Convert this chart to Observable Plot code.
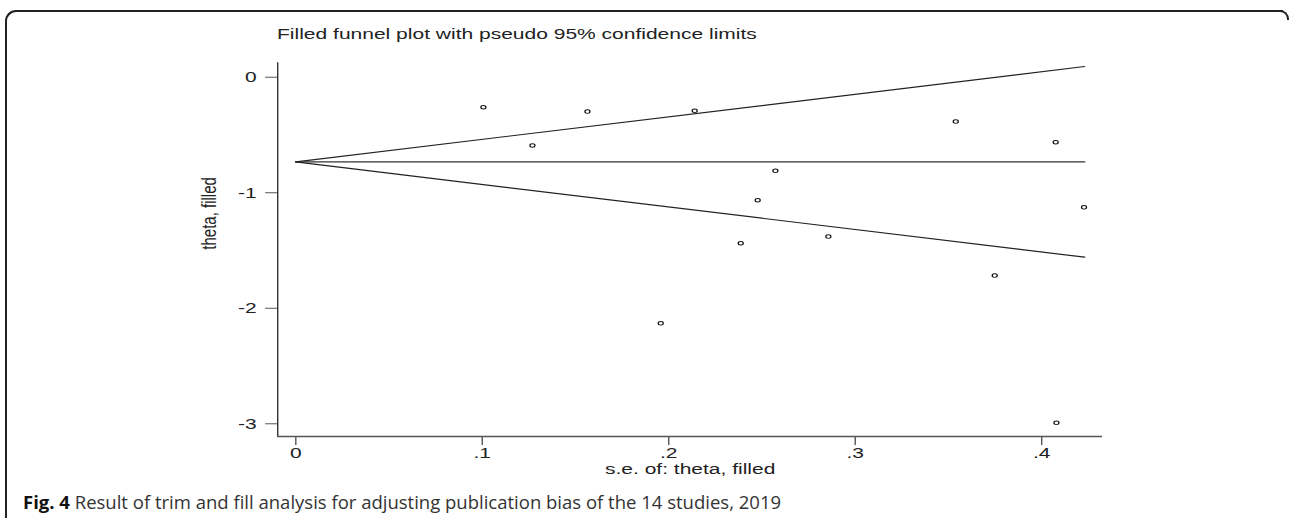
<!DOCTYPE html>
<html>
<head>
<meta charset="utf-8">
<script src="https://cdn.jsdelivr.net/npm/d3@7"></script>
<script src="https://cdn.jsdelivr.net/npm/@observablehq/plot@0.6"></script>
<style>
  html, body { margin: 0; padding: 0; background: #fff; }
  body { width: 1290px; height: 518px; overflow: hidden; position: relative; }
  #frame { position: absolute; left: 5px; top: 10px; width: 1276px; height: 600px;
           border-top: 2px solid #222; border-left: 2px solid #222; border-top-left-radius: 11px; }
  #corner { position: absolute; left: 1277px; top: 10px; width: 10px; height: 8px;
            border-top: 2px solid #222; border-right: 2px solid #222; border-top-right-radius: 9px; }
  #stretch { position: absolute; left: 0; top: 0; width: 921.43px; height: 480px;
             transform: scaleX(1.4); transform-origin: 0 0; }
  #title { position: absolute; left: 197.9px; top: 26px; font: 15px/1 "Liberation Sans", Arial, sans-serif;
           color: #222; white-space: nowrap; }
  #chart { position: absolute; left: 0; top: 50px; }
  #caption { position: absolute; left: 23px; top: 492.5px; font: 18.5px/1 "Open Sans", sans-serif;
             color: #333; white-space: nowrap; }
  #caption b { color: #111; }
</style>
</head>
<body>
<div id="frame"></div>
<div id="corner"></div>
<div id="stretch">
  <div id="title">Filled funnel plot with pseudo 95% confidence limits</div>
  <div id="chart"></div>
</div>
<div id="caption"><b>Fig. 4</b> Result of trim and fill analysis for adjusting publication bias of the 14 studies, 2019</div>
<script>
// Study points: standard error (x) and theta (y)
const studySe    = [0.1006, 0.1269, 0.1564, 0.2139, 0.2572, 0.2477, 0.2386, 0.2856, 0.1957, 0.3539, 0.4075, 0.4227, 0.3748, 0.4079];
const studyTheta = [-0.260, -0.591, -0.297, -0.291, -0.810, -1.065, -1.437, -1.379, -2.130, -0.384, -0.563, -1.126, -1.717, -2.992];

// Funnel lines (end points)
const funnelSe    = [0, 0.423];
const funnelUpper = [-0.733, 0.093];
const funnelMid   = [-0.733, -0.733];
const funnelLower = [-0.733, -1.558];

// Axes
const xTicks = [0, 0.1, 0.2, 0.3, 0.4];
const xTickLabels = ["0", ".1", ".2", ".3", ".4"];
const yTicks = [0, -1, -2, -3];
const yTickLabels = ["0", "-1", "-2", "-3"];
const xLabel = "s.e. of: theta, filled";
const yLabel = "theta, filled";
const xDomain = [-0.0097, 0.4327];
const yDomain = [-3.11, 0.125];

const xFmt = new Map(xTicks.map((t, i) => [t, xTickLabels[i]]));
const yFmt = new Map(yTicks.map((t, i) => [t, yTickLabels[i]]));

const W = 921.43;
const chart = Plot.plot({
  width: W,
  height: 430,
  marginLeft: 197.86,
  marginRight: W - 787.14,
  marginTop: 12.3,
  marginBottom: 44,
  x: { domain: xDomain },
  y: { domain: yDomain },
  style: { fontFamily: '"Liberation Sans", Arial, sans-serif', fontSize: "15px", color: "#222", background: "transparent", overflow: "visible" },
  marks: [
    Plot.ruleX([xDomain[0]], { stroke: "#333", strokeWidth: 1 }),
    Plot.ruleY([yDomain[0]], { stroke: "#555", strokeWidth: 1.6 }),
    Plot.axisX({ ticks: xTicks, tickFormat: d => xFmt.get(d), tickSize: 9, tickPadding: 2, label: null, stroke: "#555", fontSize: 15 }),
    Plot.axisY({ ticks: yTicks, tickFormat: d => yFmt.get(d), tickSize: 8.5, tickPadding: 6.5, label: null, stroke: "#555", fontSize: 15 }),
    Plot.line(funnelSe, { x: funnelSe, y: funnelUpper, stroke: "#222", strokeWidth: 1.2 }),
    Plot.line(funnelSe, { x: funnelSe, y: funnelMid, stroke: "#333", strokeWidth: 1.2 }),
    Plot.line(funnelSe, { x: funnelSe, y: funnelLower, stroke: "#222", strokeWidth: 1.2 }),
    Plot.dot(studySe, { x: studySe, y: studyTheta, r: 1.8, stroke: "#111", strokeWidth: 0.9, fill: "none" }),
    Plot.text([xLabel], { frameAnchor: "bottom", lineAnchor: "top", dy: 27, fontSize: 15, fill: "#222" }),
    Plot.text([yLabel], { frameAnchor: "left", rotate: -90, dx: -49, fontSize: 15, fill: "#222" })
  ]
});
document.getElementById("chart").appendChild(chart);
</script>
</body>
</html>
